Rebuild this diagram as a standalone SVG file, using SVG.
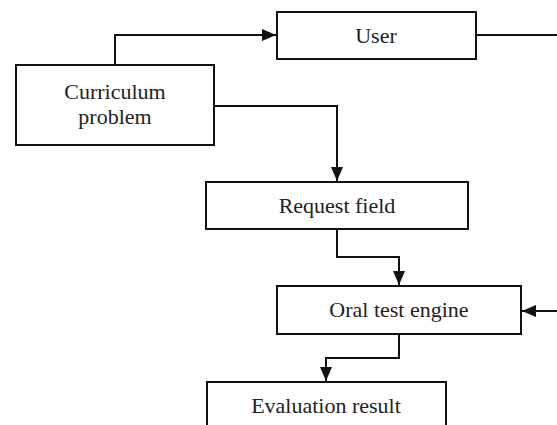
<svg xmlns="http://www.w3.org/2000/svg" width="557" height="425" viewBox="0 0 557 425">
<defs>
<style>
.box{fill:#fff;stroke:#111;stroke-width:2}
.lbl{font-family:"Liberation Serif","Times New Roman",serif;font-size:22px;fill:#222;text-anchor:middle}
.conn{fill:none;stroke:#111;stroke-width:2}
</style>
<marker id="ah" markerUnits="userSpaceOnUse" markerWidth="14" markerHeight="12" refX="14" refY="6" orient="auto">
<path d="M0,0 L14,6 L0,12 z" fill="#111"/>
</marker>
</defs>
<rect width="557" height="425" fill="#fff"/>
<g id="connectors">
<path class="conn" d="M115,65 V35 H276" marker-end="url(#ah)"/>
<path class="conn" d="M476,35 H557"/>
<path class="conn" d="M214,106 H337 V181" marker-end="url(#ah)"/>
<path class="conn" d="M337,229 V257 H399 V285" marker-end="url(#ah)"/>
<path class="conn" d="M557,311 H522" marker-end="url(#ah)"/>
<path class="conn" d="M399,334 V358 H326 V381" marker-end="url(#ah)"/>
</g>
<g id="user">
<rect class="box" x="277" y="12" width="199" height="47"/>
<text class="lbl" x="376" y="43">User</text>
</g>
<g id="curriculum">
<rect class="box" x="16" y="65" width="198" height="80"/>
<text class="lbl" x="115" y="99">Curriculum</text>
<text class="lbl" x="115" y="124">problem</text>
</g>
<g id="request">
<rect class="box" x="206" y="182" width="262" height="47"/>
<text class="lbl" x="337" y="213">Request field</text>
</g>
<g id="oral">
<rect class="box" x="277" y="286" width="244" height="48"/>
<text class="lbl" x="399" y="317">Oral test engine</text>
</g>
<g id="evaluation">
<rect class="box" x="207" y="382" width="239" height="60"/>
<text class="lbl" x="326" y="413">Evaluation result</text>
</g>
</svg>
